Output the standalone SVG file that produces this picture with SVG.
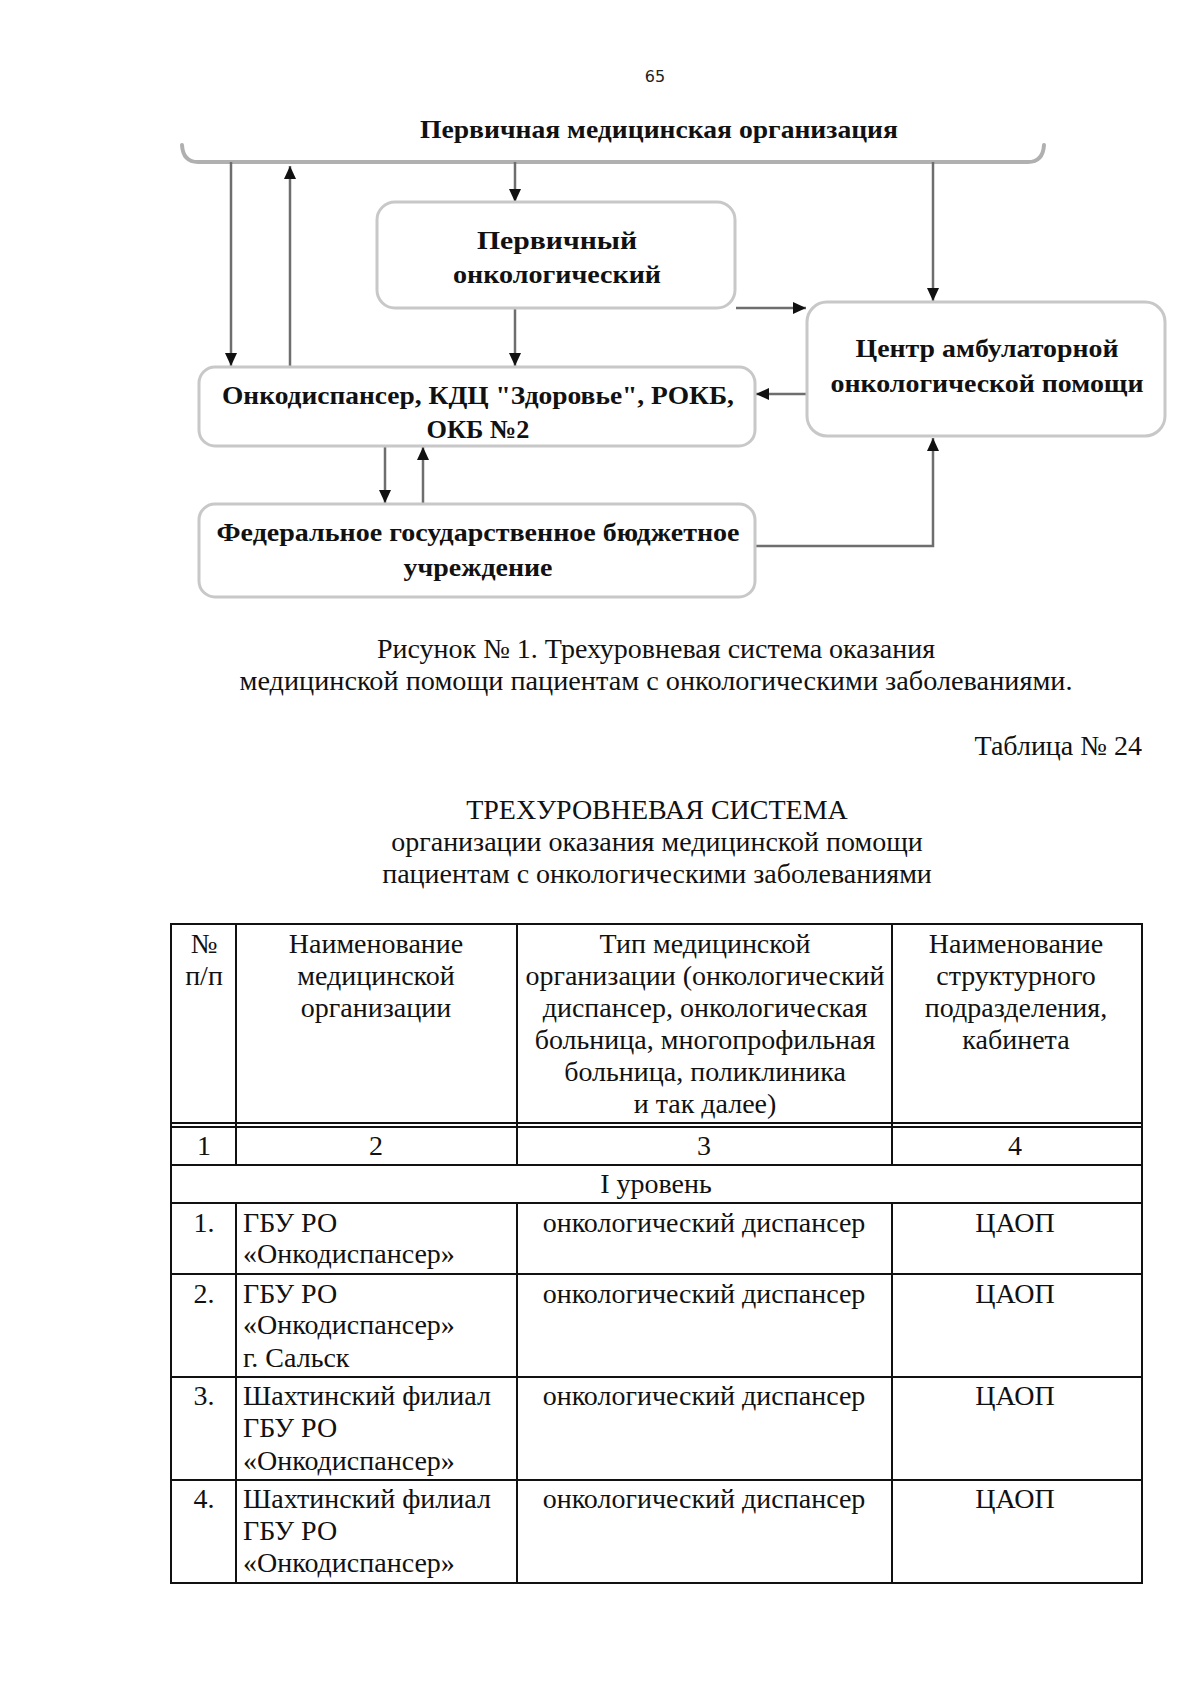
<svg xmlns="http://www.w3.org/2000/svg" width="1200" height="1698" viewBox="0 0 1200 1698">
<style>
.bg{fill:#ffffff}
.box{fill:#ffffff;stroke:#c8c8c8;stroke-width:3}
.conn{fill:none;stroke:#6e6e6e;stroke-width:2.5}
.br{fill:none;stroke:#b0b0b0;stroke-width:4;stroke-linecap:round}
.db{font-family:"Liberation Serif","DejaVu Serif",serif;font-weight:bold;font-size:26px;fill:#111;text-anchor:middle}
.t{font-family:"Liberation Serif","Times New Roman",serif;font-size:28px;fill:#111}
.c{text-anchor:middle}
.grid{stroke:#111;stroke-width:2;fill:none}
</style>
<defs>
<marker id="ah" markerUnits="userSpaceOnUse" markerWidth="14" markerHeight="12" refX="13" refY="6" orient="auto">
<path d="M0,0 L13,6 L0,12 z" fill="#111"/>
</marker>
</defs>
<rect class="bg" x="0" y="0" width="1200" height="1698"/>
<text x="655" y="82" font-family="DejaVu Sans,sans-serif" font-size="16" fill="#222" text-anchor="middle">65</text>

<g id="title">
<text class="db" x="659" y="138" textLength="478" lengthAdjust="spacingAndGlyphs">Первичная медицинская организация</text>
<path class="br" d="M182,145 Q183,162 198,162 H1028 Q1043,162 1044,145"/>
</g>

<g id="connectors">
<path class="conn" d="M231,162 V366" marker-end="url(#ah)"/>
<path class="conn" d="M290,366 V166" marker-end="url(#ah)"/>
<path class="conn" d="M515,162 V202" marker-end="url(#ah)"/>
<path class="conn" d="M933,162 V301" marker-end="url(#ah)"/>
<path class="conn" d="M736,308 H806" marker-end="url(#ah)"/>
<path class="conn" d="M515,308 V366" marker-end="url(#ah)"/>
<path class="conn" d="M806,394 H756" marker-end="url(#ah)"/>
<path class="conn" d="M385,446 V503" marker-end="url(#ah)"/>
<path class="conn" d="M423,503 V447" marker-end="url(#ah)"/>
<path class="conn" d="M755,546 H933 V438" marker-end="url(#ah)"/>
</g>

<g id="node-primary">
<rect class="box" x="377" y="202" width="358" height="106" rx="18"/>
<text class="db" x="557" y="249" textLength="160" lengthAdjust="spacingAndGlyphs">Первичный</text>
<text class="db" x="557" y="283" textLength="208" lengthAdjust="spacingAndGlyphs">онкологический</text>
</g>

<g id="node-center">
<rect class="box" x="807" y="302" width="358" height="134" rx="20"/>
<text class="db" x="987" y="357" textLength="263" lengthAdjust="spacingAndGlyphs">Центр амбулаторной</text>
<text class="db" x="987" y="392" textLength="313" lengthAdjust="spacingAndGlyphs">онкологической помощи</text>
</g>

<g id="node-onko">
<rect class="box" x="199" y="367" width="556" height="79" rx="16"/>
<text class="db" x="478" y="404" textLength="512" lengthAdjust="spacingAndGlyphs">Онкодиспансер, КДЦ "Здоровье", РОКБ,</text>
<text class="db" x="478" y="438" textLength="103" lengthAdjust="spacingAndGlyphs">ОКБ №2</text>
</g>

<g id="node-federal">
<rect class="box" x="199" y="504" width="556" height="93" rx="16"/>
<text class="db" x="478" y="541" textLength="523" lengthAdjust="spacingAndGlyphs">Федеральное государственное бюджетное</text>
<text class="db" x="478" y="576" textLength="149" lengthAdjust="spacingAndGlyphs">учреждение</text>
</g>

<g id="captions">
<text class="t c" x="656" y="658">Рисунок № 1. Трехуровневая система оказания</text>
<text class="t c" x="656" y="690" textLength="833" lengthAdjust="spacingAndGlyphs">медицинской помощи пациентам с онкологическими заболеваниями.</text>
<text class="t" x="1142" y="755" text-anchor="end">Таблица № 24</text>
<text class="t c" x="657" y="819">ТРЕХУРОВНЕВАЯ СИСТЕМА</text>
<text class="t c" x="657" y="851">организации оказания медицинской помощи</text>
<text class="t c" x="657" y="883">пациентам с онкологическими заболеваниями</text>
</g>

<g id="table">
<rect class="grid" x="171" y="924" width="971" height="659"/>
<line class="grid" x1="171" y1="1123" x2="1142" y2="1123"/>
<line class="grid" x1="171" y1="1127" x2="1142" y2="1127"/>
<line class="grid" x1="171" y1="1165" x2="1142" y2="1165"/>
<line class="grid" x1="171" y1="1203" x2="1142" y2="1203"/>
<line class="grid" x1="171" y1="1274" x2="1142" y2="1274"/>
<line class="grid" x1="171" y1="1377" x2="1142" y2="1377"/>
<line class="grid" x1="171" y1="1480" x2="1142" y2="1480"/>
<line class="grid" x1="236" y1="924" x2="236" y2="1165"/>
<line class="grid" x1="517" y1="924" x2="517" y2="1165"/>
<line class="grid" x1="892" y1="924" x2="892" y2="1165"/>
<line class="grid" x1="236" y1="1203" x2="236" y2="1583"/>
<line class="grid" x1="517" y1="1203" x2="517" y2="1583"/>
<line class="grid" x1="892" y1="1203" x2="892" y2="1583"/>

<text class="t c" x="204" y="953">№</text>
<text class="t c" x="204" y="985">п/п</text>
<text class="t c" x="376" y="953">Наименование</text>
<text class="t c" x="376" y="985">медицинской</text>
<text class="t c" x="376" y="1017">организации</text>
<text class="t c" x="705" y="953">Тип медицинской</text>
<text class="t c" x="705" y="985">организации (онкологический</text>
<text class="t c" x="705" y="1017">диспансер, онкологическая</text>
<text class="t c" x="705" y="1049">больница, многопрофильная</text>
<text class="t c" x="705" y="1081">больница, поликлиника</text>
<text class="t c" x="705" y="1113">и так далее)</text>
<text class="t c" x="1016" y="953">Наименование</text>
<text class="t c" x="1016" y="985">структурного</text>
<text class="t c" x="1016" y="1017">подразделения,</text>
<text class="t c" x="1016" y="1049">кабинета</text>

<text class="t c" x="204" y="1155">1</text>
<text class="t c" x="376" y="1155">2</text>
<text class="t c" x="704" y="1155">3</text>
<text class="t c" x="1015" y="1155">4</text>
<text class="t c" x="656" y="1193">I уровень</text>

<text class="t c" x="204" y="1232">1.</text>
<text class="t" x="243" y="1232">ГБУ РО</text>
<text class="t" x="243" y="1263">«Онкодиспансер»</text>
<text class="t c" x="704" y="1232">онкологический диспансер</text>
<text class="t c" x="1015" y="1232">ЦАОП</text>

<text class="t c" x="204" y="1303">2.</text>
<text class="t" x="243" y="1303">ГБУ РО</text>
<text class="t" x="243" y="1334">«Онкодиспансер»</text>
<text class="t" x="243" y="1367">г. Сальск</text>
<text class="t c" x="704" y="1303">онкологический диспансер</text>
<text class="t c" x="1015" y="1303">ЦАОП</text>

<text class="t c" x="204" y="1405">3.</text>
<text class="t" x="243" y="1405">Шахтинский филиал</text>
<text class="t" x="243" y="1437">ГБУ РО</text>
<text class="t" x="243" y="1470">«Онкодиспансер»</text>
<text class="t c" x="704" y="1405">онкологический диспансер</text>
<text class="t c" x="1015" y="1405">ЦАОП</text>

<text class="t c" x="204" y="1508">4.</text>
<text class="t" x="243" y="1508">Шахтинский филиал</text>
<text class="t" x="243" y="1540">ГБУ РО</text>
<text class="t" x="243" y="1572">«Онкодиспансер»</text>
<text class="t c" x="704" y="1508">онкологический диспансер</text>
<text class="t c" x="1015" y="1508">ЦАОП</text>
</g>
</svg>
